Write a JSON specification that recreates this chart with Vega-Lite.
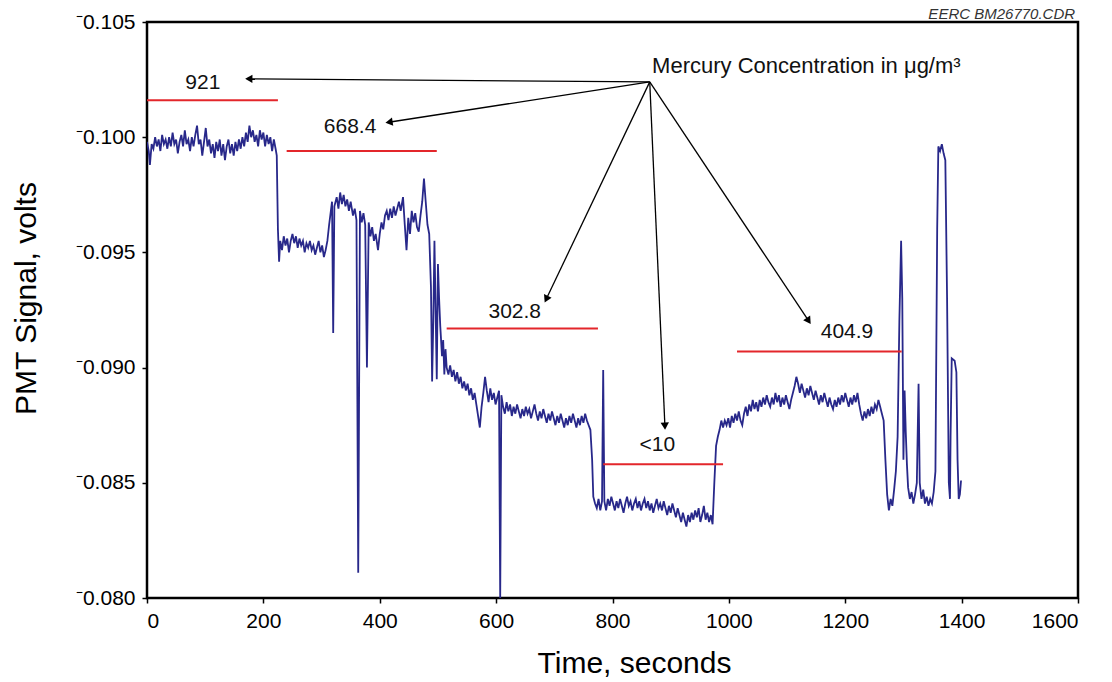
{
  "$schema": "https://vega.github.io/schema/vega-lite/v6.json",
  "width": 931,
  "height": 576,
  "autosize": {"type": "none"},
  "padding": {"left": 147, "top": 22, "right": 34, "bottom": 84},
  "background": "white",
  "config": {
    "view": {"stroke": "black", "strokeWidth": 2.5},
    "font": "Liberation Sans",
    "axis": {
      "domain": false, "grid": false, "tickColor": "black", "tickWidth": 1.5, "tickSize": 5,
      "labelColor": "black", "labelFontSize": 21, "labelFont": "Liberation Sans", "labelPadding": 7,
      "titleColor": "black", "titleFontSize": 30, "titleFont": "Liberation Sans", "titleFontWeight": "normal"
    }
  },
  "datasets": {
    "pmt": [
      {"t":0,"v":-0.0998},{"t":3,"v":-0.0994},{"t":5,"v":-0.0988},{"t":8,"v":-0.0997},{"t":11,"v":-0.0995},{"t":14,"v":-0.1000},{"t":17,"v":-0.0996},{"t":20,"v":-0.0999},{"t":23,"v":-0.0994},{"t":26,"v":-0.1001},{"t":29,"v":-0.0997},{"t":32,"v":-0.0999},{"t":35,"v":-0.0995},{"t":38,"v":-0.1000},{"t":41,"v":-0.0996},{"t":44,"v":-0.1002},{"t":47,"v":-0.0997},{"t":50,"v":-0.0999},{"t":53,"v":-0.0993},{"t":56,"v":-0.0998},{"t":59,"v":-0.1001},{"t":62,"v":-0.0996},{"t":65,"v":-0.1003},{"t":68,"v":-0.0997},{"t":71,"v":-0.0999},{"t":74,"v":-0.0994},{"t":77,"v":-0.1000},{"t":80,"v":-0.0996},{"t":83,"v":-0.1001},{"t":86,"v":-0.1005},{"t":89,"v":-0.0997},{"t":92,"v":-0.0999},{"t":95,"v":-0.0992},{"t":98,"v":-0.0998},{"t":101,"v":-0.1004},{"t":104,"v":-0.0996},{"t":107,"v":-0.0999},{"t":110,"v":-0.0993},{"t":113,"v":-0.0997},{"t":116,"v":-0.0991},{"t":119,"v":-0.0998},{"t":122,"v":-0.0994},{"t":125,"v":-0.0999},{"t":128,"v":-0.0992},{"t":131,"v":-0.0997},{"t":134,"v":-0.0990},{"t":137,"v":-0.0996},{"t":140,"v":-0.0999},{"t":143,"v":-0.0993},{"t":146,"v":-0.0997},{"t":149,"v":-0.0992},{"t":152,"v":-0.0998},{"t":155,"v":-0.0994},{"t":158,"v":-0.0999},{"t":161,"v":-0.0995},{"t":164,"v":-0.1000},{"t":167,"v":-0.0996},{"t":170,"v":-0.1002},{"t":173,"v":-0.0998},{"t":176,"v":-0.1005},{"t":179,"v":-0.1000},{"t":182,"v":-0.1003},{"t":185,"v":-0.0998},{"t":188,"v":-0.1001},{"t":191,"v":-0.0996},{"t":194,"v":-0.1003},{"t":197,"v":-0.0999},{"t":200,"v":-0.1002},{"t":203,"v":-0.0996},{"t":206,"v":-0.1001},{"t":209,"v":-0.0997},{"t":212,"v":-0.1000},{"t":215,"v":-0.0994},{"t":218,"v":-0.0999},{"t":221,"v":-0.0995},{"t":223,"v":-0.0992},{"t":225,"v":-0.0960},{"t":227,"v":-0.0946},
      {"t":229,"v":-0.0955},{"t":232,"v":-0.0951},{"t":235,"v":-0.0957},{"t":238,"v":-0.0953},{"t":241,"v":-0.0956},{"t":244,"v":-0.0950},{"t":247,"v":-0.0955},{"t":250,"v":-0.0958},{"t":253,"v":-0.0954},{"t":256,"v":-0.0957},{"t":259,"v":-0.0952},{"t":262,"v":-0.0956},{"t":265,"v":-0.0953},{"t":268,"v":-0.0955},{"t":271,"v":-0.0950},{"t":274,"v":-0.0954},{"t":277,"v":-0.0952},{"t":280,"v":-0.0955},{"t":283,"v":-0.0951},{"t":286,"v":-0.0953},{"t":289,"v":-0.0949},{"t":292,"v":-0.0952},{"t":295,"v":-0.0955},{"t":298,"v":-0.0950},{"t":301,"v":-0.0953},{"t":304,"v":-0.0948},{"t":307,"v":-0.0951},{"t":310,"v":-0.0955},{"t":313,"v":-0.0962},{"t":316,"v":-0.0968},{"t":318,"v":-0.0972},{"t":320,"v":-0.0915},{"t":322,"v":-0.0970},{"t":326,"v":-0.0974},{"t":329,"v":-0.0969},{"t":332,"v":-0.0976},{"t":335,"v":-0.0971},{"t":338,"v":-0.0975},{"t":341,"v":-0.0970},{"t":344,"v":-0.0973},{"t":347,"v":-0.0968},{"t":350,"v":-0.0972},{"t":354,"v":-0.0966},{"t":357,"v":-0.0969},{"t":360,"v":-0.0964},{"t":363,"v":-0.0811},{"t":366,"v":-0.0968},{"t":369,"v":-0.0963},{"t":372,"v":-0.0967},{"t":375,"v":-0.0962},{"t":378,"v":-0.0900},{"t":381,"v":-0.0963},{"t":384,"v":-0.0957},{"t":387,"v":-0.0961},{"t":390,"v":-0.0955},{"t":393,"v":-0.0958},{"t":397,"v":-0.0951},{"t":400,"v":-0.0958},{"t":403,"v":-0.0963},{"t":406,"v":-0.0960},{"t":409,"v":-0.0966},{"t":412,"v":-0.0968},{"t":415,"v":-0.0964},{"t":418,"v":-0.0969},{"t":421,"v":-0.0965},{"t":424,"v":-0.0970},{"t":427,"v":-0.0966},{"t":430,"v":-0.0969},{"t":433,"v":-0.0972},{"t":436,"v":-0.0968},{"t":440,"v":-0.0974},{"t":443,"v":-0.0962},{"t":446,"v":-0.0951},{"t":449,"v":-0.0965},{"t":452,"v":-0.0958},{"t":455,"v":-0.0968},{"t":458,"v":-0.0963},{"t":461,"v":-0.0967},{"t":464,"v":-0.0961},{"t":467,"v":-0.0959},{"t":470,"v":-0.0966},{"t":473,"v":-0.0972},{"t":476,"v":-0.0982},{"t":479,"v":-0.0972},{"t":482,"v":-0.0962},{"t":485,"v":-0.0958},{"t":488,"v":-0.0935},{"t":490,"v":-0.0894},{"t":492,"v":-0.0920},{"t":494,"v":-0.0955},{"t":496,"v":-0.0925},{"t":498,"v":-0.0895},{"t":500,"v":-0.0945},{"t":502,"v":-0.0930},{"t":504,"v":-0.0918},{"t":507,"v":-0.0905},{"t":509,"v":-0.0912},{"t":511,"v":-0.0897},{"t":513,"v":-0.0908},{"t":515,"v":-0.0900},
      {"t":518,"v":-0.0897},{"t":521,"v":-0.0901},{"t":524,"v":-0.0896},{"t":527,"v":-0.0899},{"t":530,"v":-0.0894},{"t":533,"v":-0.0898},{"t":536,"v":-0.0893},{"t":539,"v":-0.0896},{"t":542,"v":-0.0891},{"t":545,"v":-0.0894},{"t":548,"v":-0.0890},{"t":551,"v":-0.0893},{"t":554,"v":-0.0888},{"t":557,"v":-0.0891},{"t":560,"v":-0.0886},{"t":563,"v":-0.0889},{"t":566,"v":-0.0884},{"t":569,"v":-0.0879},{"t":572,"v":-0.0874},{"t":575,"v":-0.0883},{"t":578,"v":-0.0889},{"t":581,"v":-0.0896},{"t":584,"v":-0.0890},{"t":587,"v":-0.0885},{"t":590,"v":-0.0891},{"t":593,"v":-0.0886},{"t":596,"v":-0.0889},{"t":599,"v":-0.0884},{"t":602,"v":-0.0887},{"t":605,"v":-0.0890},{"t":607,"v":-0.0800},{"t":609,"v":-0.0888},{"t":612,"v":-0.0883},{"t":615,"v":-0.0880},{"t":618,"v":-0.0885},{"t":621,"v":-0.0881},{"t":624,"v":-0.0884},{"t":627,"v":-0.0879},{"t":630,"v":-0.0883},{"t":633,"v":-0.0880},{"t":636,"v":-0.0884},{"t":639,"v":-0.0881},{"t":642,"v":-0.0878},{"t":645,"v":-0.0882},{"t":648,"v":-0.0879},{"t":651,"v":-0.0883},{"t":654,"v":-0.0880},{"t":657,"v":-0.0882},{"t":660,"v":-0.0878},{"t":663,"v":-0.0881},{"t":666,"v":-0.0884},{"t":669,"v":-0.0880},{"t":672,"v":-0.0877},{"t":675,"v":-0.0881},{"t":678,"v":-0.0878},{"t":681,"v":-0.0882},{"t":684,"v":-0.0879},{"t":687,"v":-0.0876},{"t":690,"v":-0.0880},{"t":693,"v":-0.0877},{"t":696,"v":-0.0881},{"t":699,"v":-0.0878},{"t":702,"v":-0.0875},{"t":705,"v":-0.0879},{"t":708,"v":-0.0876},{"t":711,"v":-0.0880},{"t":714,"v":-0.0877},{"t":717,"v":-0.0874},{"t":720,"v":-0.0878},{"t":723,"v":-0.0875},{"t":726,"v":-0.0879},{"t":729,"v":-0.0876},{"t":732,"v":-0.0880},{"t":735,"v":-0.0877},{"t":738,"v":-0.0874},{"t":741,"v":-0.0878},{"t":744,"v":-0.0875},{"t":747,"v":-0.0879},{"t":750,"v":-0.0876},{"t":753,"v":-0.0880},{"t":756,"v":-0.0877},{"t":759,"v":-0.0875},{"t":762,"v":-0.0873},{"t":765,"v":-0.0860},{"t":767,"v":-0.0844},{"t":770,"v":-0.0841},{"t":773,"v":-0.0839},{"t":776,"v":-0.0843},{"t":779,"v":-0.0838},{"t":782,"v":-0.0842},{"t":784,"v":-0.0899},{"t":786,"v":-0.0842},{"t":789,"v":-0.0838},
      {"t":792,"v":-0.0843},{"t":795,"v":-0.0840},{"t":798,"v":-0.0844},{"t":801,"v":-0.0841},{"t":804,"v":-0.0838},{"t":807,"v":-0.0842},{"t":810,"v":-0.0839},{"t":813,"v":-0.0843},{"t":816,"v":-0.0840},{"t":819,"v":-0.0837},{"t":822,"v":-0.0841},{"t":825,"v":-0.0844},{"t":828,"v":-0.0840},{"t":831,"v":-0.0842},{"t":834,"v":-0.0838},{"t":837,"v":-0.0841},{"t":840,"v":-0.0843},{"t":843,"v":-0.0839},{"t":846,"v":-0.0842},{"t":849,"v":-0.0838},{"t":852,"v":-0.0841},{"t":855,"v":-0.0843},{"t":858,"v":-0.0839},{"t":861,"v":-0.0842},{"t":864,"v":-0.0838},{"t":867,"v":-0.0841},{"t":870,"v":-0.0837},{"t":873,"v":-0.0840},{"t":876,"v":-0.0843},{"t":879,"v":-0.0839},{"t":882,"v":-0.0841},{"t":885,"v":-0.0838},{"t":888,"v":-0.0842},{"t":891,"v":-0.0839},{"t":894,"v":-0.0836},{"t":897,"v":-0.0840},{"t":900,"v":-0.0837},{"t":903,"v":-0.0841},{"t":906,"v":-0.0838},{"t":909,"v":-0.0835},{"t":912,"v":-0.0839},{"t":915,"v":-0.0836},{"t":918,"v":-0.0833},{"t":921,"v":-0.0837},{"t":924,"v":-0.0834},{"t":927,"v":-0.0831},{"t":930,"v":-0.0836},{"t":933,"v":-0.0833},{"t":936,"v":-0.0837},{"t":939,"v":-0.0834},{"t":942,"v":-0.0838},{"t":945,"v":-0.0835},{"t":948,"v":-0.0839},{"t":951,"v":-0.0833},{"t":954,"v":-0.0836},{"t":957,"v":-0.0840},{"t":960,"v":-0.0834},{"t":963,"v":-0.0837},{"t":966,"v":-0.0833},{"t":969,"v":-0.0836},{"t":972,"v":-0.0832},{"t":975,"v":-0.0850},{"t":978,"v":-0.0866},{"t":981,"v":-0.0870},{"t":984,"v":-0.0873},{"t":987,"v":-0.0877},
      {"t":990,"v":-0.0874},{"t":993,"v":-0.0877},{"t":996,"v":-0.0875},{"t":999,"v":-0.0878},{"t":1002,"v":-0.0874},{"t":1005,"v":-0.0879},{"t":1008,"v":-0.0876},{"t":1011,"v":-0.0880},{"t":1014,"v":-0.0877},{"t":1017,"v":-0.0881},{"t":1020,"v":-0.0877},{"t":1023,"v":-0.0875},{"t":1026,"v":-0.0880},{"t":1029,"v":-0.0883},{"t":1032,"v":-0.0879},{"t":1035,"v":-0.0884},{"t":1038,"v":-0.0881},{"t":1041,"v":-0.0886},{"t":1044,"v":-0.0882},{"t":1047,"v":-0.0885},{"t":1050,"v":-0.0881},{"t":1053,"v":-0.0886},{"t":1056,"v":-0.0883},{"t":1059,"v":-0.0887},{"t":1062,"v":-0.0884},{"t":1065,"v":-0.0888},{"t":1068,"v":-0.0885},{"t":1071,"v":-0.0883},{"t":1074,"v":-0.0887},{"t":1077,"v":-0.0884},{"t":1080,"v":-0.0889},{"t":1083,"v":-0.0885},{"t":1086,"v":-0.0888},{"t":1089,"v":-0.0883},{"t":1092,"v":-0.0887},{"t":1095,"v":-0.0884},{"t":1098,"v":-0.0888},{"t":1101,"v":-0.0885},{"t":1104,"v":-0.0882},{"t":1107,"v":-0.0886},{"t":1110,"v":-0.0889},{"t":1113,"v":-0.0892},{"t":1116,"v":-0.0896},{"t":1119,"v":-0.0893},{"t":1122,"v":-0.0889},{"t":1125,"v":-0.0893},{"t":1128,"v":-0.0890},{"t":1131,"v":-0.0887},{"t":1134,"v":-0.0891},{"t":1137,"v":-0.0888},{"t":1140,"v":-0.0892},{"t":1143,"v":-0.0889},{"t":1146,"v":-0.0886},{"t":1149,"v":-0.0890},{"t":1152,"v":-0.0887},{"t":1155,"v":-0.0884},{"t":1158,"v":-0.0888},{"t":1161,"v":-0.0885},{"t":1164,"v":-0.0889},{"t":1167,"v":-0.0886},{"t":1170,"v":-0.0883},{"t":1173,"v":-0.0887},{"t":1176,"v":-0.0884},{"t":1179,"v":-0.0882},{"t":1182,"v":-0.0886},{"t":1185,"v":-0.0883},{"t":1188,"v":-0.0887},{"t":1191,"v":-0.0884},{"t":1194,"v":-0.0888},{"t":1197,"v":-0.0885},{"t":1200,"v":-0.0889},{"t":1203,"v":-0.0886},{"t":1206,"v":-0.0883},{"t":1209,"v":-0.0887},{"t":1212,"v":-0.0884},{"t":1215,"v":-0.0888},{"t":1218,"v":-0.0885},{"t":1221,"v":-0.0889},{"t":1224,"v":-0.0884},{"t":1227,"v":-0.0880},{"t":1230,"v":-0.0877},{"t":1233,"v":-0.0881},{"t":1236,"v":-0.0878},{"t":1239,"v":-0.0882},{"t":1242,"v":-0.0879},{"t":1245,"v":-0.0883},{"t":1248,"v":-0.0880},{"t":1251,"v":-0.0884},{"t":1254,"v":-0.0882},{"t":1257,"v":-0.0886},{"t":1260,"v":-0.0883},{"t":1263,"v":-0.0880},{"t":1266,"v":-0.0877},{"t":1269,"v":-0.0860},{"t":1272,"v":-0.0845},{"t":1275,"v":-0.0838},{"t":1278,"v":-0.0843},{"t":1281,"v":-0.0840},{"t":1284,"v":-0.0847},{"t":1287,"v":-0.0855},{"t":1290,"v":-0.0870},{"t":1293,"v":-0.0920},{"t":1296,"v":-0.0955},{"t":1298,"v":-0.0930},{"t":1300,"v":-0.0860},{"t":1302,"v":-0.0890},{"t":1304,"v":-0.0872},{"t":1306,"v":-0.0858},{"t":1308,"v":-0.0848},{"t":1311,"v":-0.0843},{"t":1314,"v":-0.0846},{"t":1317,"v":-0.0841},{"t":1320,"v":-0.0845},{"t":1323,"v":-0.0850},{"t":1326,"v":-0.0893},{"t":1328,"v":-0.0850},{"t":1331,"v":-0.0843},{"t":1334,"v":-0.0847},{"t":1337,"v":-0.0841},{"t":1340,"v":-0.0844},{"t":1343,"v":-0.0840},{"t":1346,"v":-0.0843},{"t":1349,"v":-0.0841},{"t":1352,"v":-0.0846},{"t":1355,"v":-0.0855},{"t":1358,"v":-0.0960},{"t":1360,"v":-0.0996},{"t":1363,"v":-0.0994},{"t":1366,"v":-0.0997},{"t":1369,"v":-0.0993},{"t":1372,"v":-0.0990},{"t":1375,"v":-0.0930},{"t":1378,"v":-0.0850},{"t":1380,"v":-0.0843},{"t":1381,"v":-0.0870},{"t":1383,"v":-0.0904},{"t":1388,"v":-0.0903},{"t":1391,"v":-0.0898},{"t":1393,"v":-0.0860},{"t":1395,"v":-0.0843},{"t":1397,"v":-0.0845},{"t":1399,"v":-0.0851}
    ],
    "levels": [
      {"conc": "921", "t1": 0, "t2": 225, "v": -0.1016, "tl": 96, "vl": -0.10235},
      {"conc": "668.4", "t1": 240, "t2": 498, "v": -0.0994, "tl": 349, "vl": -0.10044},
      {"conc": "302.8", "t1": 515, "t2": 775, "v": -0.0917, "tl": 632, "vl": -0.09241},
      {"conc": "<10", "t1": 784, "t2": 990, "v": -0.0858, "tl": 877, "vl": -0.08664},
      {"conc": "404.9", "t1": 1014, "t2": 1297, "v": -0.0907, "tl": 1203, "vl": -0.09155}
    ],
    "arrows": [
      {"to": "921", "t1": 864, "v1": -0.1024, "t2": 177, "v2": -0.10253},
      {"to": "668.4", "t1": 864, "v1": -0.1024, "t2": 418, "v2": -0.10066},
      {"to": "302.8", "t1": 864, "v1": -0.1024, "t2": 687, "v2": -0.09302},
      {"to": "<10", "t1": 864, "v1": -0.1024, "t2": 890, "v2": -0.08751},
      {"to": "404.9", "t1": 864, "v1": -0.1024, "t2": 1136, "v2": -0.09207}
    ],
    "notes": [
      {"text": "Mercury Concentration in μg/m³", "t": 868, "v": -0.10279, "kind": "title"},
      {"text": "EERC BM26770.CDR", "t": 1595, "v": -0.10513, "kind": "credit"}
    ]
  },
  "layer": [
    {
      "data": {"name": "pmt"},
      "mark": {"type": "line", "color": "#28288a", "strokeWidth": 1.8, "clip": true},
      "encoding": {
        "x": {"field": "t", "type": "quantitative",
              "scale": {"domain": [0, 1600], "nice": false},
              "axis": {"values": [0, 200, 400, 600, 800, 1000, 1200, 1400, 1600], "format": "d", "title": "Time, seconds",
                       "titleX": 487, "titleY": 74, "titleBaseline": "alphabetic"}},
        "y": {"field": "v", "type": "quantitative",
              "scale": {"domain": [-0.105, -0.080], "reverse": true, "nice": false, "zero": false},
              "axis": {"values": [-0.105, -0.1, -0.095, -0.09, -0.085, -0.08], "title": "PMT Signal, volts",
                       "labelExpr": "'⁻' + format(-datum.value, '.3f')",
                       "titleX": -112, "titleY": 276, "titleBaseline": "alphabetic", "titleAngle": -90}}
      }
    },
    {
      "data": {"name": "levels"},
      "mark": {"type": "rule", "color": "#e3262b", "strokeWidth": 2},
      "encoding": {
        "x": {"field": "t1", "type": "quantitative"},
        "x2": {"field": "t2"},
        "y": {"field": "v", "type": "quantitative"}
      }
    },
    {
      "data": {"name": "levels"},
      "mark": {"type": "text", "fontSize": 21, "color": "#111", "align": "center", "baseline": "middle", "font": "Liberation Sans"},
      "encoding": {
        "x": {"field": "tl", "type": "quantitative"},
        "y": {"field": "vl", "type": "quantitative"},
        "text": {"field": "conc"}
      }
    },
    {
      "data": {"name": "arrows"},
      "mark": {"type": "rule", "color": "black", "strokeWidth": 1.3},
      "encoding": {
        "x": {"field": "t1", "type": "quantitative"},
        "y": {"field": "v1", "type": "quantitative"},
        "x2": {"field": "t2"},
        "y2": {"field": "v2"}
      }
    },
    {
      "data": {"name": "arrows"},
      "transform": [
        {"calculate": "atan2((datum.t2 - datum.t1) * 0.5819, -(datum.v2 - datum.v1) * 23040) * 180 / PI", "as": "ang"}
      ],
      "mark": {"type": "point", "shape": "triangle", "filled": true, "color": "black", "size": 70, "opacity": 1},
      "encoding": {
        "x": {"field": "t2", "type": "quantitative"},
        "y": {"field": "v2", "type": "quantitative"},
        "angle": {"field": "ang", "type": "quantitative", "scale": null}
      }
    },
    {
      "data": {"name": "notes"},
      "transform": [{"filter": "datum.kind == 'title'"}],
      "mark": {"type": "text", "fontSize": 22, "color": "#111", "align": "left", "baseline": "alphabetic", "font": "Liberation Sans"},
      "encoding": {
        "x": {"field": "t", "type": "quantitative"},
        "y": {"field": "v", "type": "quantitative"},
        "text": {"field": "text"}
      }
    },
    {
      "data": {"name": "notes"},
      "transform": [{"filter": "datum.kind == 'credit'"}],
      "mark": {"type": "text", "fontSize": 15, "fontStyle": "italic", "color": "#333", "align": "right", "baseline": "alphabetic", "font": "Liberation Sans"},
      "encoding": {
        "x": {"field": "t", "type": "quantitative"},
        "y": {"field": "v", "type": "quantitative"},
        "text": {"field": "text"}
      }
    }
  ]
}
